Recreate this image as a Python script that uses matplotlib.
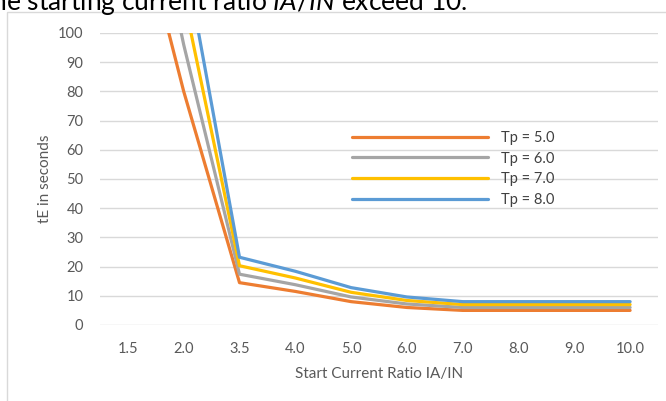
import matplotlib
matplotlib.use("Agg")
import matplotlib.pyplot as plt
from matplotlib.patches import Rectangle

plt.rcParams['font.family'] = ['Lato', 'DejaVu Sans']
plt.rcParams['mathtext.fontset'] = 'custom'
plt.rcParams['mathtext.rm'] = 'Lato'
plt.rcParams['mathtext.it'] = 'Lato:italic'

categories = ["1.5", "2.0", "3.5", "4.0", "5.0", "6.0", "7.0", "8.0", "9.0", "10.0"]
tp5 = [155, 80, 14.5, 11.5, 8.0, 6.0, 5.0, 5.0, 5.0, 5.0]
tp6 = [186, 96, 17.4, 13.8, 9.6, 7.2, 6.0, 6.0, 6.0, 6.0]
tp7 = [217, 112, 20.3, 16.1, 11.2, 8.4, 7.0, 7.0, 7.0, 7.0]
tp8 = [248, 128, 23.2, 18.4, 12.8, 9.6, 8.0, 8.0, 8.0, 8.0]
series = [("Tp = 5.0", tp5, "#ED7D31"),
          ("Tp = 6.0", tp6, "#A5A5A5"),
          ("Tp = 7.0", tp7, "#FFC000"),
          ("Tp = 8.0", tp8, "#5B9BD5")]
yticks = [0, 10, 20, 30, 40, 50, 60, 70, 80, 90, 100]

W, H = 666, 401
fig = plt.figure(figsize=(W / 100, H / 100), dpi=100)

# chart area border
fig.patches.append(Rectangle((7 / W, -0.1), 1.1, 1 - 12 / H + 0.1,
                             transform=fig.transFigure, fill=False,
                             edgecolor="#D9D9D9", linewidth=1.0))

ax = fig.add_axes([100 / W, 1 - 325 / H, 558 / W, 292 / H])
x = list(range(len(categories)))
for label, vals, color in series:
    ax.plot(x, vals, color=color, linewidth=2.3, label=label,
            solid_joinstyle="round", solid_capstyle="round")

ax.set_xlim(-0.5, len(categories) - 0.5)
ax.set_ylim(0, 100)
ax.set_xticks(x)
ax.set_xticklabels(categories)
ax.set_yticks(yticks)
ax.grid(axis="y", color="#D9D9D9", linewidth=1.0)
ax.set_axisbelow(True)
for s in ax.spines.values():
    s.set_visible(False)
ax.tick_params(length=0, labelsize=10.5, colors="#595959", pad=12)
ax.tick_params(axis="y", pad=12)
ax.set_xlabel("Start Current Ratio IA/IN", fontsize=11, color="#595959", labelpad=8)
ax.set_ylabel("tE in seconds", fontsize=11, color="#595959", labelpad=4)

leg = ax.legend(loc="upper left", bbox_to_anchor=(352 / W, 1 - 131 / H),
                bbox_transform=fig.transFigure, frameon=False,
                handlelength=9.3, handletextpad=0.9, labelspacing=0.45,
                borderpad=0, borderaxespad=0, fontsize=10.5)
for t in leg.get_texts():
    t.set_color("#404040")

# cropped heading text at the top
renderer = fig.canvas.get_renderer()
prefix = fig.text(0, 0, "th", fontsize=19)
wpx = prefix.get_window_extent(renderer).width
prefix.remove()
fig.text((6 - wpx) / W, 1 - 10 / H, r"the starting current ratio $\mathit{IA/IN}$ exceed 10.",
         fontsize=19, color="black", va="baseline", ha="left")

fig.savefig("out.png", dpi=100)
